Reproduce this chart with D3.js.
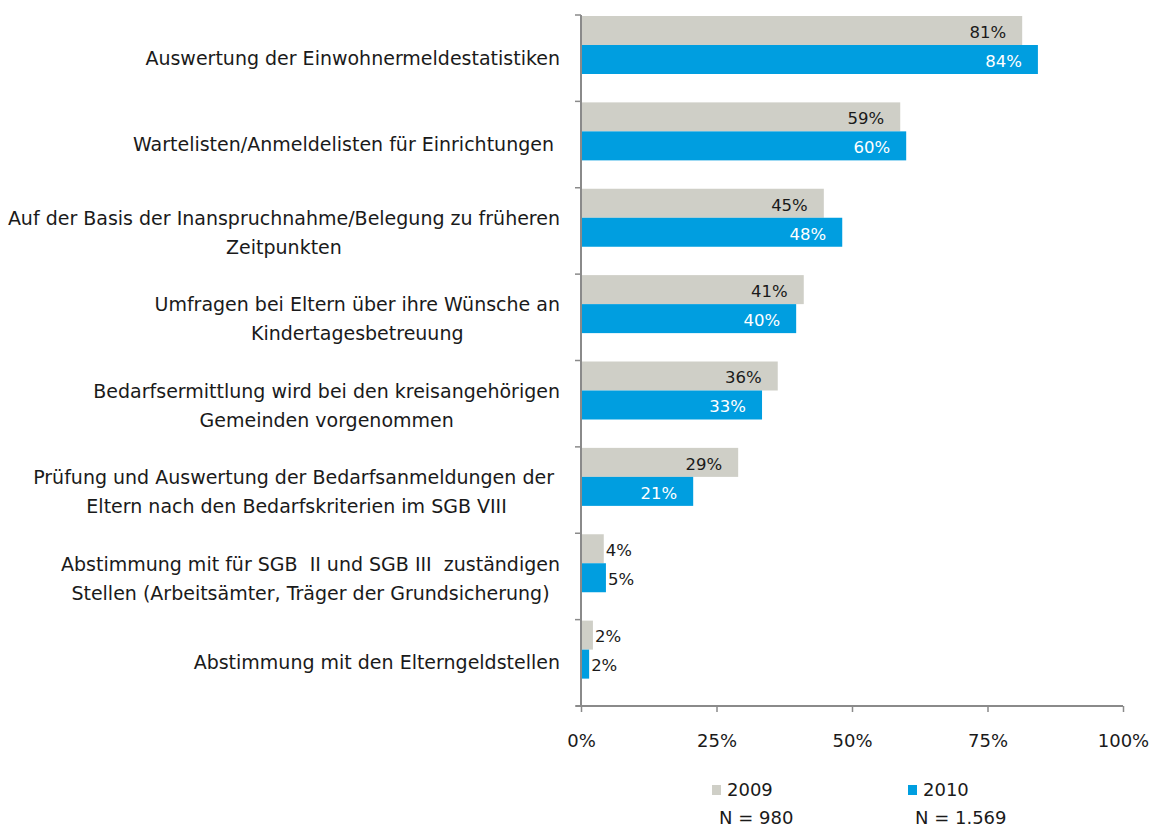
<!DOCTYPE html>
<html>
<head>
<meta charset="utf-8">
<script src="https://cdn.jsdelivr.net/npm/d3@7"></script>
<style>
  body { margin: 0; background: #fff; }
  svg text { font-family: "DejaVu Sans", Verdana, sans-serif; white-space: pre; }
</style>
</head>
<body>
<svg id="chart" width="1154" height="828"></svg>
<script>
// ── Data ──
const categories = [
  ['Auswertung der Einwohnermeldestatistiken'],
  ['Wartelisten/Anmeldelisten für Einrichtungen '],
  ['Auf der Basis der Inanspruchnahme/Belegung zu früheren', 'Zeitpunkten'],
  ['Umfragen bei Eltern über ihre Wünsche an', 'Kindertagesbetreuung'],
  ['Bedarfsermittlung wird bei den kreisangehörigen', 'Gemeinden vorgenommen'],
  ['Prüfung und Auswertung der Bedarfsanmeldungen der ', 'Eltern nach den Bedarfskriterien im SGB VIII'],
  ['Abstimmung mit für SGB  II und SGB III  zuständigen', 'Stellen (Arbeitsämter, Träger der Grundsicherung)'],
  ['Abstimmung mit den Elterngeldstellen']
];
const values2009 = [81.4, 58.9, 44.8, 41.1, 36.3, 29.0, 4.2, 2.2];
const values2010 = [84.3, 60.0, 48.2, 39.7, 33.4, 20.7, 4.6, 1.5];
const series = ['2009', '2010'];
const sampleSizes = ['N = 980', 'N = 1.569'];
const xTicks = [0, 25, 50, 75, 100];

const C = { '2009': '#cfcfc7', '2010': '#009ee0' };
const AX = '#8a8a8a';
const INK = '#1a1a1a';

const svg = d3.select('#chart');
const mL = 581, mR = 1123, mT = 15, mB = 706;

const x = d3.scaleLinear().domain([0, 100]).range([mL, mR]);
const y = d3.scaleBand().domain(d3.range(categories.length)).range([mT, mB]);
const bh = 29;

// ── Bars ──
const rows = svg.append('g').selectAll('g').data(categories.map((c, i) => i)).enter().append('g')
  .attr('transform', i => `translate(0,${y(i) + 1})`);

[values2009, values2010].forEach((vals, s) => {
  const key = series[s];
  rows.append('rect')
    .attr('x', mL)
    .attr('y', s * bh)
    .attr('width', i => x(vals[i]) - mL)
    .attr('height', bh)
    .attr('fill', C[key]);

  rows.append('text')
    .text(i => Math.round(vals[i]) + '%')
    .attr('x', i => vals[i] > 10 ? x(vals[i]) - 16 : x(vals[i]) + 2)
    .attr('y', s * bh + bh / 2 + 1.5)
    .attr('dy', '0.35em')
    .attr('text-anchor', i => vals[i] > 10 ? 'end' : 'start')
    .attr('font-size', '16.5px')
    .attr('fill', i => (s === 1 && vals[i] > 10) ? '#fff' : INK);
});

// ── Axes ──
const yAxis = svg.append('g');
yAxis.append('line').attr('x1', mL).attr('x2', mL).attr('y1', mT).attr('y2', mB)
  .attr('stroke', AX).attr('stroke-width', 2);
yAxis.selectAll('line.t').data(d3.range(categories.length + 1)).enter().append('line')
  .attr('class', 't')
  .attr('x1', mL - 6).attr('x2', mL)
  .attr('y1', i => i < categories.length ? y(i) : mB)
  .attr('y2', i => i < categories.length ? y(i) : mB)
  .attr('stroke', AX).attr('stroke-width', 1.5);

const xAxis = svg.append('g').attr('transform', `translate(0,${mB})`)
  .call(d3.axisBottom(x).tickValues(xTicks).tickSize(6).tickPadding(22).tickFormat(d => d + '%'));
xAxis.select('.domain').attr('stroke', AX).attr('stroke-width', 2).attr('d', `M${mL - 5},0H${mR}`);
xAxis.selectAll('.tick line').attr('stroke', AX).attr('stroke-width', 1.5);
xAxis.selectAll('.tick text').attr('font-size', '18px').attr('fill', INK)
  .attr('font-family', '"DejaVu Sans", Verdana, sans-serif');

// ── Category labels ──
const labelRight = 560, lh = 29;
categories.forEach((lines, i) => {
  const g = svg.append('g');
  const cy = y(i) + y.bandwidth() / 2 + (lines.length > 1 ? 2 : 0);
  const texts = lines.map((t, k) => g.append('text')
    .text(t)
    .attr('y', cy + (k - (lines.length - 1) / 2) * lh)
    .attr('dy', '0.35em')
    .attr('font-size', '19px')
    .attr('fill', INK)
    .attr('text-anchor', 'middle'));
  const maxW = d3.max(texts, t => t.node().getComputedTextLength());
  texts.forEach(t => t.attr('x', labelRight - maxW / 2));
});

// ── Legend ──
const lg = svg.append('g');
[712, 908].forEach((px, s) => {
  lg.append('rect').attr('x', px).attr('y', 785).attr('width', 9).attr('height', 10).attr('fill', C[series[s]]);
  lg.append('text').text(series[s]).attr('x', px + 15).attr('y', 789.5).attr('dy', '0.35em')
    .attr('font-size', '18px').attr('fill', INK);
  lg.append('text').text(sampleSizes[s]).attr('x', px + 7).attr('y', 818).attr('dy', '0.35em')
    .attr('font-size', '18px').attr('fill', INK);
});
</script>
</body>
</html>
